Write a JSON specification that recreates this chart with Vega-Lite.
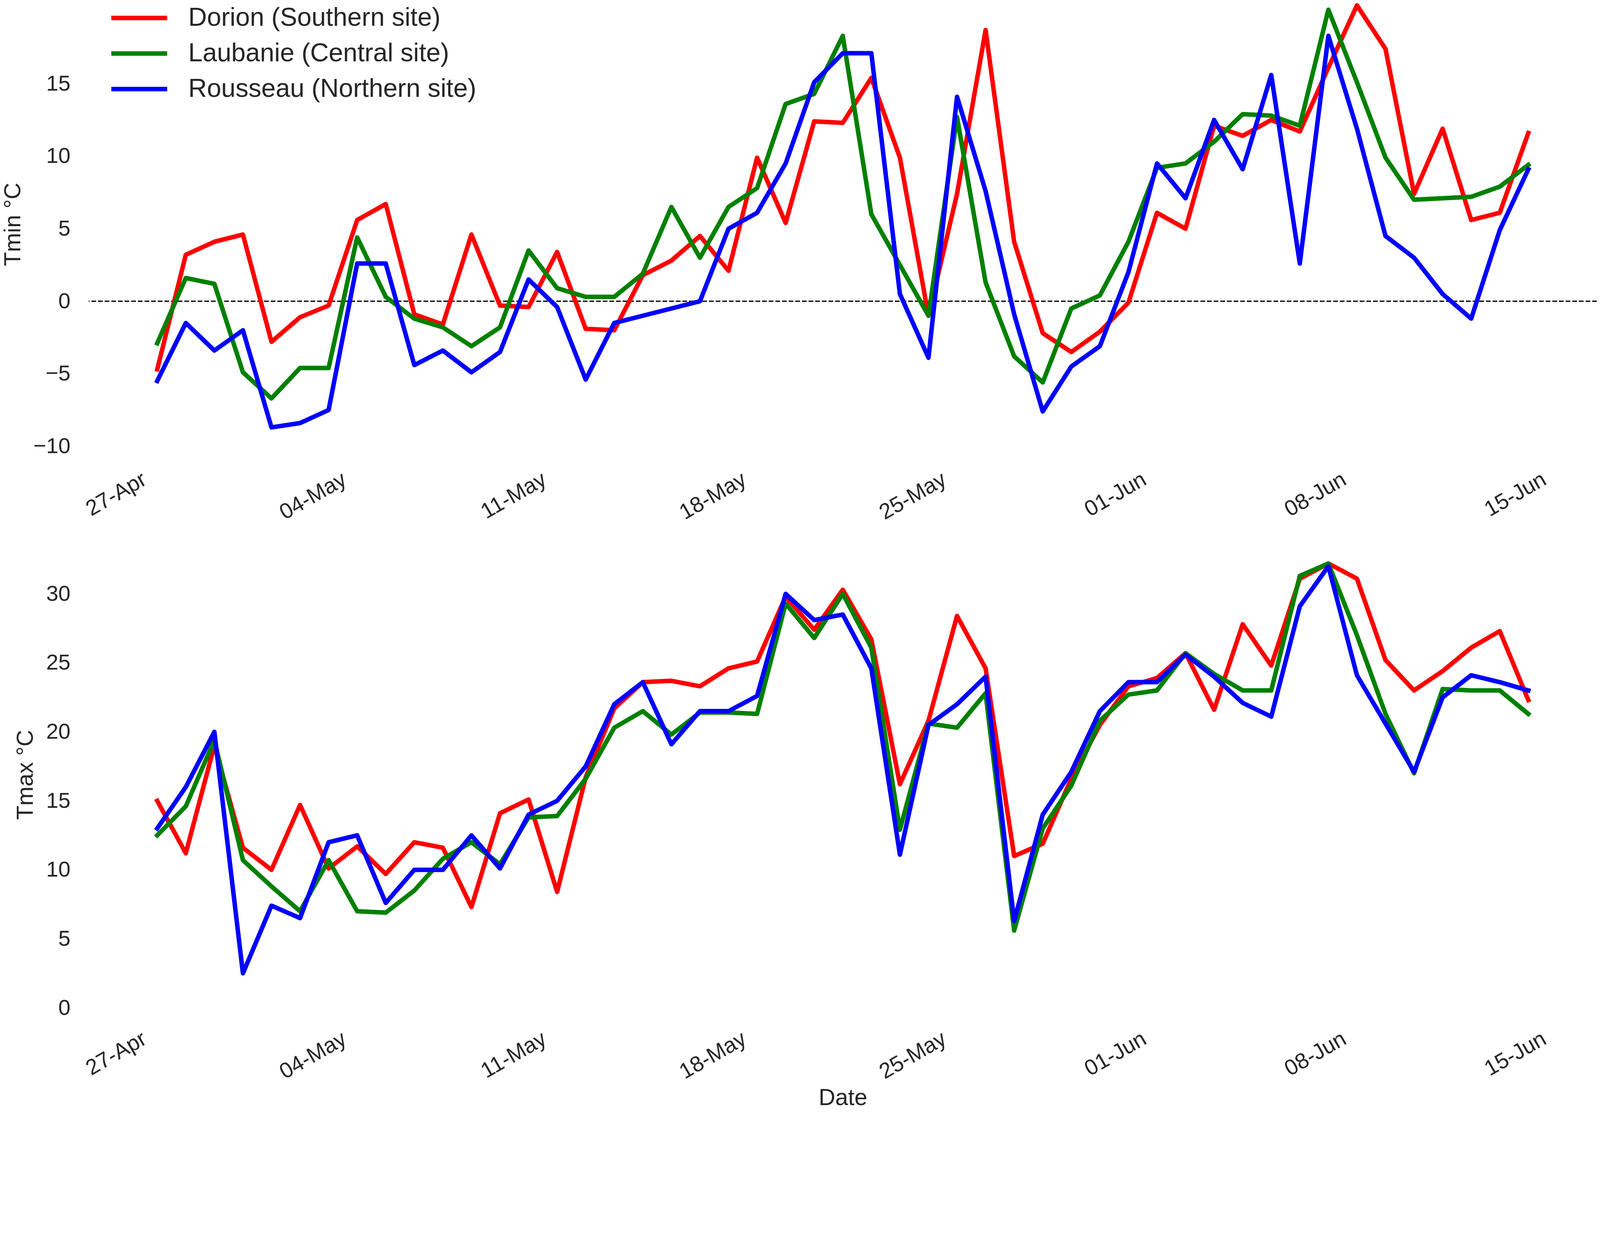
{
  "$schema": "https://vega.github.io/schema/vega-lite/v6.json",
  "background": "white",
  "padding": {"left": 4, "top": 0, "right": 0, "bottom": 0},
  "bounds": "flush",
  "spacing": 238,
  "config": {
    "view": {"stroke": null},
    "font": "Liberation Sans",
    "axis": {
      "domain": false,
      "ticks": false,
      "grid": false,
      "labelFont": "Liberation Sans",
      "labelFontSize": 56,
      "labelColor": "#262626",
      "labelLimit": 0,
      "titleFont": "Liberation Sans",
      "titleFontSize": 59,
      "titleFontWeight": "normal",
      "titleColor": "#262626"
    },
    "axisY": {"labelPadding": 47, "titlePadding": 22},
    "axisX": {
      "labelAngle": -30,
      "labelAlign": "right",
      "labelBaseline": "bottom",
      "labelPadding": 100,
      "labelOffset": -18,
      "labelOverlap": false,
      "labelFlush": false,
      "titlePadding": 9
    },
    "legend": {
      "orient": "none",
      "legendX": 52,
      "legendY": 13,
      "symbolType": "stroke",
      "symbolSize": 20450,
      "symbolStrokeWidth": 11.5,
      "clipHeight": 66,
      "labelFont": "Liberation Sans",
      "labelFontSize": 66,
      "labelColor": "#262626",
      "labelOffset": 48,
      "labelLimit": 0,
      "rowPadding": 25
    }
  },
  "datasets": {
    "temps": [
      {"date": "2017-04-27", "site": "Dorion (Southern site)", "tmin": -4.7, "tmax": 15.0},
      {"date": "2017-04-28", "site": "Dorion (Southern site)", "tmin": 3.2, "tmax": 11.2},
      {"date": "2017-04-29", "site": "Dorion (Southern site)", "tmin": 4.1, "tmax": 19.0},
      {"date": "2017-04-30", "site": "Dorion (Southern site)", "tmin": 4.6, "tmax": 11.6},
      {"date": "2017-05-01", "site": "Dorion (Southern site)", "tmin": -2.8, "tmax": 10.0},
      {"date": "2017-05-02", "site": "Dorion (Southern site)", "tmin": -1.1, "tmax": 14.7},
      {"date": "2017-05-03", "site": "Dorion (Southern site)", "tmin": -0.3, "tmax": 10.1},
      {"date": "2017-05-04", "site": "Dorion (Southern site)", "tmin": 5.6, "tmax": 11.7},
      {"date": "2017-05-05", "site": "Dorion (Southern site)", "tmin": 6.7, "tmax": 9.7},
      {"date": "2017-05-06", "site": "Dorion (Southern site)", "tmin": -0.9, "tmax": 12.0},
      {"date": "2017-05-07", "site": "Dorion (Southern site)", "tmin": -1.6, "tmax": 11.6},
      {"date": "2017-05-08", "site": "Dorion (Southern site)", "tmin": 4.6, "tmax": 7.3},
      {"date": "2017-05-09", "site": "Dorion (Southern site)", "tmin": -0.3, "tmax": 14.1},
      {"date": "2017-05-10", "site": "Dorion (Southern site)", "tmin": -0.4, "tmax": 15.1},
      {"date": "2017-05-11", "site": "Dorion (Southern site)", "tmin": 3.4, "tmax": 8.4},
      {"date": "2017-05-12", "site": "Dorion (Southern site)", "tmin": -1.9, "tmax": 16.7},
      {"date": "2017-05-13", "site": "Dorion (Southern site)", "tmin": -2.0, "tmax": 21.7},
      {"date": "2017-05-14", "site": "Dorion (Southern site)", "tmin": 1.8, "tmax": 23.6},
      {"date": "2017-05-15", "site": "Dorion (Southern site)", "tmin": 2.8, "tmax": 23.7},
      {"date": "2017-05-16", "site": "Dorion (Southern site)", "tmin": 4.5, "tmax": 23.3},
      {"date": "2017-05-17", "site": "Dorion (Southern site)", "tmin": 2.1, "tmax": 24.6},
      {"date": "2017-05-18", "site": "Dorion (Southern site)", "tmin": 9.9, "tmax": 25.1},
      {"date": "2017-05-19", "site": "Dorion (Southern site)", "tmin": 5.4, "tmax": 29.8},
      {"date": "2017-05-20", "site": "Dorion (Southern site)", "tmin": 12.4, "tmax": 27.4},
      {"date": "2017-05-21", "site": "Dorion (Southern site)", "tmin": 12.3, "tmax": 30.3},
      {"date": "2017-05-22", "site": "Dorion (Southern site)", "tmin": 15.4, "tmax": 26.7},
      {"date": "2017-05-23", "site": "Dorion (Southern site)", "tmin": 9.9, "tmax": 16.2},
      {"date": "2017-05-24", "site": "Dorion (Southern site)", "tmin": -1.0, "tmax": 20.8},
      {"date": "2017-05-25", "site": "Dorion (Southern site)", "tmin": 7.4, "tmax": 28.4},
      {"date": "2017-05-26", "site": "Dorion (Southern site)", "tmin": 18.7, "tmax": 24.6},
      {"date": "2017-05-27", "site": "Dorion (Southern site)", "tmin": 4.1, "tmax": 11.0},
      {"date": "2017-05-28", "site": "Dorion (Southern site)", "tmin": -2.2, "tmax": 11.9},
      {"date": "2017-05-29", "site": "Dorion (Southern site)", "tmin": -3.5, "tmax": 16.6},
      {"date": "2017-05-30", "site": "Dorion (Southern site)", "tmin": -2.1, "tmax": 20.5},
      {"date": "2017-05-31", "site": "Dorion (Southern site)", "tmin": -0.1, "tmax": 23.3},
      {"date": "2017-06-01", "site": "Dorion (Southern site)", "tmin": 6.1, "tmax": 23.9},
      {"date": "2017-06-02", "site": "Dorion (Southern site)", "tmin": 5.0, "tmax": 25.7},
      {"date": "2017-06-03", "site": "Dorion (Southern site)", "tmin": 12.1, "tmax": 21.6},
      {"date": "2017-06-04", "site": "Dorion (Southern site)", "tmin": 11.4, "tmax": 27.8},
      {"date": "2017-06-05", "site": "Dorion (Southern site)", "tmin": 12.5, "tmax": 24.8},
      {"date": "2017-06-06", "site": "Dorion (Southern site)", "tmin": 11.7, "tmax": 31.1},
      {"date": "2017-06-07", "site": "Dorion (Southern site)", "tmin": 16.1, "tmax": 32.2},
      {"date": "2017-06-08", "site": "Dorion (Southern site)", "tmin": 20.4, "tmax": 31.1},
      {"date": "2017-06-09", "site": "Dorion (Southern site)", "tmin": 17.4, "tmax": 25.2},
      {"date": "2017-06-10", "site": "Dorion (Southern site)", "tmin": 7.4, "tmax": 23.0},
      {"date": "2017-06-11", "site": "Dorion (Southern site)", "tmin": 11.9, "tmax": 24.4},
      {"date": "2017-06-12", "site": "Dorion (Southern site)", "tmin": 5.6, "tmax": 26.1},
      {"date": "2017-06-13", "site": "Dorion (Southern site)", "tmin": 6.1, "tmax": 27.3},
      {"date": "2017-06-14", "site": "Dorion (Southern site)", "tmin": 11.6, "tmax": 22.3},
      {"date": "2017-04-27", "site": "Laubanie (Central site)", "tmin": -2.9, "tmax": 12.5},
      {"date": "2017-04-28", "site": "Laubanie (Central site)", "tmin": 1.6, "tmax": 14.6},
      {"date": "2017-04-29", "site": "Laubanie (Central site)", "tmin": 1.2, "tmax": 19.4},
      {"date": "2017-04-30", "site": "Laubanie (Central site)", "tmin": -4.9, "tmax": 10.7},
      {"date": "2017-05-01", "site": "Laubanie (Central site)", "tmin": -6.7, "tmax": 8.8},
      {"date": "2017-05-02", "site": "Laubanie (Central site)", "tmin": -4.6, "tmax": 7.0},
      {"date": "2017-05-03", "site": "Laubanie (Central site)", "tmin": -4.6, "tmax": 10.7},
      {"date": "2017-05-04", "site": "Laubanie (Central site)", "tmin": 4.4, "tmax": 7.0},
      {"date": "2017-05-05", "site": "Laubanie (Central site)", "tmin": 0.3, "tmax": 6.9},
      {"date": "2017-05-06", "site": "Laubanie (Central site)", "tmin": -1.2, "tmax": 8.5},
      {"date": "2017-05-07", "site": "Laubanie (Central site)", "tmin": -1.8, "tmax": 10.8},
      {"date": "2017-05-08", "site": "Laubanie (Central site)", "tmin": -3.1, "tmax": 12.0},
      {"date": "2017-05-09", "site": "Laubanie (Central site)", "tmin": -1.8, "tmax": 10.4},
      {"date": "2017-05-10", "site": "Laubanie (Central site)", "tmin": 3.5, "tmax": 13.8},
      {"date": "2017-05-11", "site": "Laubanie (Central site)", "tmin": 0.9, "tmax": 13.9},
      {"date": "2017-05-12", "site": "Laubanie (Central site)", "tmin": 0.3, "tmax": 16.6},
      {"date": "2017-05-13", "site": "Laubanie (Central site)", "tmin": 0.3, "tmax": 20.3},
      {"date": "2017-05-14", "site": "Laubanie (Central site)", "tmin": 1.9, "tmax": 21.5},
      {"date": "2017-05-15", "site": "Laubanie (Central site)", "tmin": 6.5, "tmax": 19.8},
      {"date": "2017-05-16", "site": "Laubanie (Central site)", "tmin": 3.0, "tmax": 21.4},
      {"date": "2017-05-17", "site": "Laubanie (Central site)", "tmin": 6.5, "tmax": 21.4},
      {"date": "2017-05-18", "site": "Laubanie (Central site)", "tmin": 7.8, "tmax": 21.3},
      {"date": "2017-05-19", "site": "Laubanie (Central site)", "tmin": 13.6, "tmax": 29.3},
      {"date": "2017-05-20", "site": "Laubanie (Central site)", "tmin": 14.3, "tmax": 26.8},
      {"date": "2017-05-21", "site": "Laubanie (Central site)", "tmin": 18.3, "tmax": 30.0},
      {"date": "2017-05-22", "site": "Laubanie (Central site)", "tmin": 6.0, "tmax": 26.1},
      {"date": "2017-05-23", "site": "Laubanie (Central site)", "tmin": 2.5, "tmax": 12.9},
      {"date": "2017-05-24", "site": "Laubanie (Central site)", "tmin": -1.0, "tmax": 20.6},
      {"date": "2017-05-25", "site": "Laubanie (Central site)", "tmin": 12.7, "tmax": 20.3},
      {"date": "2017-05-26", "site": "Laubanie (Central site)", "tmin": 1.3, "tmax": 22.8},
      {"date": "2017-05-27", "site": "Laubanie (Central site)", "tmin": -3.8, "tmax": 5.6},
      {"date": "2017-05-28", "site": "Laubanie (Central site)", "tmin": -5.6, "tmax": 13.0},
      {"date": "2017-05-29", "site": "Laubanie (Central site)", "tmin": -0.5, "tmax": 16.1},
      {"date": "2017-05-30", "site": "Laubanie (Central site)", "tmin": 0.4, "tmax": 20.8},
      {"date": "2017-05-31", "site": "Laubanie (Central site)", "tmin": 4.1, "tmax": 22.7},
      {"date": "2017-06-01", "site": "Laubanie (Central site)", "tmin": 9.2, "tmax": 23.0},
      {"date": "2017-06-02", "site": "Laubanie (Central site)", "tmin": 9.5, "tmax": 25.7},
      {"date": "2017-06-03", "site": "Laubanie (Central site)", "tmin": 11.0, "tmax": 24.2},
      {"date": "2017-06-04", "site": "Laubanie (Central site)", "tmin": 12.9, "tmax": 23.0},
      {"date": "2017-06-05", "site": "Laubanie (Central site)", "tmin": 12.8, "tmax": 23.0},
      {"date": "2017-06-06", "site": "Laubanie (Central site)", "tmin": 12.1, "tmax": 31.3},
      {"date": "2017-06-07", "site": "Laubanie (Central site)", "tmin": 20.1, "tmax": 32.2},
      {"date": "2017-06-08", "site": "Laubanie (Central site)", "tmin": 15.1, "tmax": 27.0},
      {"date": "2017-06-09", "site": "Laubanie (Central site)", "tmin": 9.9, "tmax": 21.3},
      {"date": "2017-06-10", "site": "Laubanie (Central site)", "tmin": 7.0, "tmax": 17.0},
      {"date": "2017-06-11", "site": "Laubanie (Central site)", "tmin": 7.1, "tmax": 23.1},
      {"date": "2017-06-12", "site": "Laubanie (Central site)", "tmin": 7.2, "tmax": 23.0},
      {"date": "2017-06-13", "site": "Laubanie (Central site)", "tmin": 7.9, "tmax": 23.0},
      {"date": "2017-06-14", "site": "Laubanie (Central site)", "tmin": 9.4, "tmax": 21.3},
      {"date": "2017-04-27", "site": "Rousseau (Northern site)", "tmin": -5.5, "tmax": 13.0},
      {"date": "2017-04-28", "site": "Rousseau (Northern site)", "tmin": -1.5, "tmax": 16.0},
      {"date": "2017-04-29", "site": "Rousseau (Northern site)", "tmin": -3.4, "tmax": 20.0},
      {"date": "2017-04-30", "site": "Rousseau (Northern site)", "tmin": -2.0, "tmax": 2.5},
      {"date": "2017-05-01", "site": "Rousseau (Northern site)", "tmin": -8.7, "tmax": 7.4},
      {"date": "2017-05-02", "site": "Rousseau (Northern site)", "tmin": -8.4, "tmax": 6.5},
      {"date": "2017-05-03", "site": "Rousseau (Northern site)", "tmin": -7.5, "tmax": 12.0},
      {"date": "2017-05-04", "site": "Rousseau (Northern site)", "tmin": 2.6, "tmax": 12.5},
      {"date": "2017-05-05", "site": "Rousseau (Northern site)", "tmin": 2.6, "tmax": 7.6},
      {"date": "2017-05-06", "site": "Rousseau (Northern site)", "tmin": -4.4, "tmax": 10.0},
      {"date": "2017-05-07", "site": "Rousseau (Northern site)", "tmin": -3.4, "tmax": 10.0},
      {"date": "2017-05-08", "site": "Rousseau (Northern site)", "tmin": -4.9, "tmax": 12.5},
      {"date": "2017-05-09", "site": "Rousseau (Northern site)", "tmin": -3.5, "tmax": 10.1},
      {"date": "2017-05-10", "site": "Rousseau (Northern site)", "tmin": 1.5, "tmax": 14.0},
      {"date": "2017-05-11", "site": "Rousseau (Northern site)", "tmin": -0.4, "tmax": 15.0},
      {"date": "2017-05-12", "site": "Rousseau (Northern site)", "tmin": -5.4, "tmax": 17.5},
      {"date": "2017-05-13", "site": "Rousseau (Northern site)", "tmin": -1.5, "tmax": 22.0},
      {"date": "2017-05-14", "site": "Rousseau (Northern site)", "tmin": -1.0, "tmax": 23.6},
      {"date": "2017-05-15", "site": "Rousseau (Northern site)", "tmin": -0.5, "tmax": 19.1},
      {"date": "2017-05-16", "site": "Rousseau (Northern site)", "tmin": 0.0, "tmax": 21.5},
      {"date": "2017-05-17", "site": "Rousseau (Northern site)", "tmin": 5.0, "tmax": 21.5},
      {"date": "2017-05-18", "site": "Rousseau (Northern site)", "tmin": 6.1, "tmax": 22.6},
      {"date": "2017-05-19", "site": "Rousseau (Northern site)", "tmin": 9.5, "tmax": 30.0},
      {"date": "2017-05-20", "site": "Rousseau (Northern site)", "tmin": 15.1, "tmax": 28.1},
      {"date": "2017-05-21", "site": "Rousseau (Northern site)", "tmin": 17.1, "tmax": 28.5},
      {"date": "2017-05-22", "site": "Rousseau (Northern site)", "tmin": 17.1, "tmax": 24.6},
      {"date": "2017-05-23", "site": "Rousseau (Northern site)", "tmin": 0.5, "tmax": 11.1},
      {"date": "2017-05-24", "site": "Rousseau (Northern site)", "tmin": -3.9, "tmax": 20.5},
      {"date": "2017-05-25", "site": "Rousseau (Northern site)", "tmin": 14.1, "tmax": 22.0},
      {"date": "2017-05-26", "site": "Rousseau (Northern site)", "tmin": 7.6, "tmax": 24.0},
      {"date": "2017-05-27", "site": "Rousseau (Northern site)", "tmin": -0.9, "tmax": 6.3},
      {"date": "2017-05-28", "site": "Rousseau (Northern site)", "tmin": -7.6, "tmax": 14.0},
      {"date": "2017-05-29", "site": "Rousseau (Northern site)", "tmin": -4.5, "tmax": 17.1},
      {"date": "2017-05-30", "site": "Rousseau (Northern site)", "tmin": -3.1, "tmax": 21.5},
      {"date": "2017-05-31", "site": "Rousseau (Northern site)", "tmin": 2.0, "tmax": 23.6},
      {"date": "2017-06-01", "site": "Rousseau (Northern site)", "tmin": 9.5, "tmax": 23.6},
      {"date": "2017-06-02", "site": "Rousseau (Northern site)", "tmin": 7.1, "tmax": 25.6},
      {"date": "2017-06-03", "site": "Rousseau (Northern site)", "tmin": 12.5, "tmax": 24.0},
      {"date": "2017-06-04", "site": "Rousseau (Northern site)", "tmin": 9.1, "tmax": 22.1},
      {"date": "2017-06-05", "site": "Rousseau (Northern site)", "tmin": 15.6, "tmax": 21.1},
      {"date": "2017-06-06", "site": "Rousseau (Northern site)", "tmin": 2.6, "tmax": 29.1},
      {"date": "2017-06-07", "site": "Rousseau (Northern site)", "tmin": 18.3, "tmax": 32.0},
      {"date": "2017-06-08", "site": "Rousseau (Northern site)", "tmin": 11.9, "tmax": 24.1},
      {"date": "2017-06-09", "site": "Rousseau (Northern site)", "tmin": 4.5, "tmax": 20.6},
      {"date": "2017-06-10", "site": "Rousseau (Northern site)", "tmin": 3.0, "tmax": 17.1},
      {"date": "2017-06-11", "site": "Rousseau (Northern site)", "tmin": 0.5, "tmax": 22.5},
      {"date": "2017-06-12", "site": "Rousseau (Northern site)", "tmin": -1.2, "tmax": 24.1},
      {"date": "2017-06-13", "site": "Rousseau (Northern site)", "tmin": 4.9, "tmax": 23.6},
      {"date": "2017-06-14", "site": "Rousseau (Northern site)", "tmin": 9.1, "tmax": 23.0}
    ]
  },
  "resolve": {"scale": {"color": "independent"}},
  "vconcat": [
    {
      "width": 3861,
      "height": 1148,
      "encoding": {
        "y": {
          "field": "tmin",
          "type": "quantitative",
          "title": "Tmin °C",
          "scale": {"domain": [-10.15, 20.77], "nice": false, "zero": false},
          "axis": {"values": [-10, -5, 0, 5, 10, 15]}
        }
      },
      "layer": [
        {
          "data": {"values": [{"tmin": 0}]},
          "mark": {"type": "rule", "color": "black", "strokeWidth": 3.1, "strokeDash": [12, 5]}
        },
        {
          "data": {"name": "temps"},
          "mark": {"type": "line", "strokeWidth": 11.5, "strokeJoin": "round", "strokeCap": "square"},
          "encoding": {
            "x": {
              "field": "date",
              "type": "temporal",
              "title": null,
              "scale": {
                "type": "utc",
                "domain": [
                  {"year": 2017, "month": 4, "date": 24, "hours": 14, "minutes": 24, "utc": true},
                  {"year": 2017, "month": 6, "date": 16, "hours": 9, "minutes": 36, "utc": true}
                ]
              },
              "axis": {
                "format": "%d-%b",
                "values": [
                  {"year": 2017, "month": 4, "date": 27, "utc": true},
                  {"year": 2017, "month": 5, "date": 4, "utc": true},
                  {"year": 2017, "month": 5, "date": 11, "utc": true},
                  {"year": 2017, "month": 5, "date": 18, "utc": true},
                  {"year": 2017, "month": 5, "date": 25, "utc": true},
                  {"year": 2017, "month": 6, "date": 1, "utc": true},
                  {"year": 2017, "month": 6, "date": 8, "utc": true},
                  {"year": 2017, "month": 6, "date": 15, "utc": true}
                ]
              }
            },
            "color": {
              "field": "site",
              "type": "nominal",
              "scale": {
                "domain": ["Dorion (Southern site)", "Laubanie (Central site)", "Rousseau (Northern site)"],
                "range": ["#ff0000", "#008000", "#0000ff"]
              },
              "legend": {"title": null}
            }
          }
        }
      ]
    },
    {
      "width": 3861,
      "height": 1194,
      "data": {"name": "temps"},
      "mark": {"type": "line", "strokeWidth": 11.5, "strokeJoin": "round", "strokeCap": "square"},
      "encoding": {
        "x": {
          "field": "date",
          "type": "temporal",
          "title": "Date",
          "scale": {
            "type": "utc",
            "domain": [
              {"year": 2017, "month": 4, "date": 24, "hours": 14, "minutes": 24, "utc": true},
              {"year": 2017, "month": 6, "date": 16, "hours": 9, "minutes": 36, "utc": true}
            ]
          },
          "axis": {
            "format": "%d-%b",
            "values": [
              {"year": 2017, "month": 4, "date": 27, "utc": true},
              {"year": 2017, "month": 5, "date": 4, "utc": true},
              {"year": 2017, "month": 5, "date": 11, "utc": true},
              {"year": 2017, "month": 5, "date": 18, "utc": true},
              {"year": 2017, "month": 5, "date": 25, "utc": true},
              {"year": 2017, "month": 6, "date": 1, "utc": true},
              {"year": 2017, "month": 6, "date": 8, "utc": true},
              {"year": 2017, "month": 6, "date": 15, "utc": true}
            ]
          }
        },
        "y": {
          "field": "tmax",
          "type": "quantitative",
          "title": "Tmax °C",
          "scale": {"domain": [0, 33.8], "nice": false, "zero": false},
          "axis": {"values": [0, 5, 10, 15, 20, 25, 30]}
        },
        "color": {
          "field": "site",
          "type": "nominal",
          "scale": {
            "domain": ["Dorion (Southern site)", "Laubanie (Central site)", "Rousseau (Northern site)"],
            "range": ["#ff0000", "#008000", "#0000ff"]
          },
          "legend": null
        }
      }
    }
  ]
}
